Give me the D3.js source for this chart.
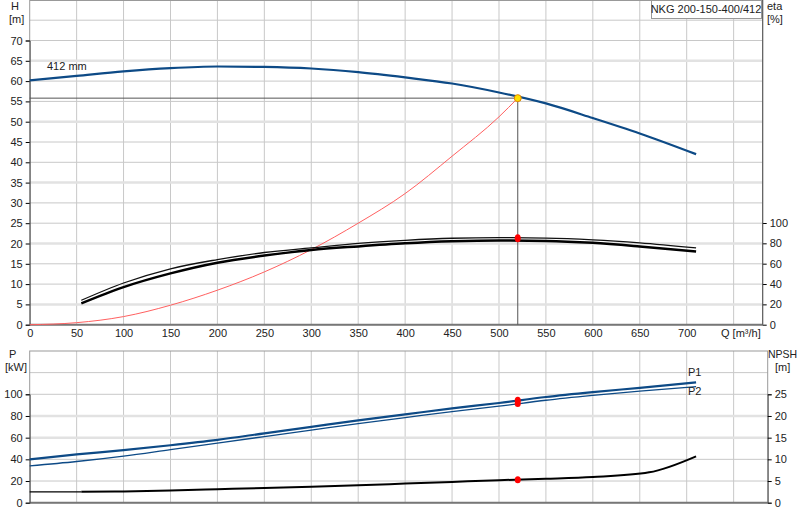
<!DOCTYPE html><html><head><meta charset="utf-8"><script src="https://cdn.jsdelivr.net/npm/d3@7"></script>
<style>body{margin:0;background:#fff}text{font-family:"Liberation Sans",Arial,sans-serif;font-size:11px;fill:#222}</style></head><body><svg id="c" width="800" height="520"></svg><script>
const qTicks=[0,50,100,150,200,250,300,350,400,450,500,550,600,650,700];
const hTicks=[0,5,10,15,20,25,30,35,40,45,50,55,60,65,70];
const etaTicks=[0,20,40,60,80,100];
const pTicks=[0,20,40,60,80,100];
const npshTicks=[0,5,10,15,20,25];
const hQ=[0,50,100,150,200,250,300,350,400,450,500,550,600,650,710];
const hVal=[60.2,61.3,62.4,63.2,63.6,63.5,63.1,62.2,60.9,59.4,57.2,54.5,50.9,47.1,42.0];
const sysQ=[0,50,100,150,200,250,300,350,400,450,500,520];
const sysVal=[0,0.5,2.0,4.8,8.5,13.0,18.5,25.0,32.3,41.5,51.2,55.8];
const etaQ=[55,100,150,200,250,300,350,400,450,500,550,600,650,710];
const eta1=[24,41,55,64,71,75.5,80,83,85,85.6,85.2,83.5,80.5,75.5];
const eta2=[21,37,50.5,61,68,73.5,77,80,82,82.8,82.4,80.5,77,72];
const pQ=[0,50,100,150,200,250,300,350,400,450,500,550,600,650,710];
const p1=[40,44.5,48.5,53,58,64,70,76,81.5,87,92,97.5,102,106,111];
const p2=[34,38,43,49,55,61,67,73,78.5,84,89,94.5,99,103,107];
const npQ=[55,100,150,200,250,300,350,400,450,500,550,600,660,710];
const npVal=[2.5,2.6,2.8,3.1,3.4,3.7,4.0,4.4,4.8,5.2,5.5,5.9,7.0,10.7];
const duty={q:520,h:55.8,eta:85,p1:94.5,p2:91.5,np:5.3};
const svg=d3.select("#c");
const x=d3.scaleLinear().domain([0,700]).range([29.7,686.7]);
const xR=762.7, xR2=767.7;
const yH=d3.scaleLinear().domain([0,70]).range([324.7,40.5]);
const yE=d3.scaleLinear().domain([0,100]).range([324.7,223]);
const yP=d3.scaleLinear().domain([0,100]).range([502.7,394.3]);
const yN=d3.scaleLinear().domain([0,25]).range([502.7,394.3]);
const g=svg.append("g");
for(let q=50;q<=750;q+=50)g.append("line").attr("x1",x(q)).attr("x2",x(q)).attr("y1",0).attr("y2",324.7).attr("stroke","#c8c8c8");
for(let h=5;h<=75;h+=5)g.append("line").attr("x1",29.7).attr("x2",xR).attr("y1",yH(h)).attr("y2",yH(h)).attr("stroke",h%15==5?"#e2e2e2":"#c8c8c8").attr("stroke-width",h%15==5?2.5:1);
g.append("rect").attr("x",29.7).attr("y",0.5).attr("width",xR-29.7).attr("height",324.2).attr("fill","none").attr("stroke","#999");
g.append("line").attr("x1",29.7).attr("x2",xR).attr("y1",324.7).attr("y2",324.7).attr("stroke","#777").attr("stroke-width",2);
for(let q=50;q<=750;q+=50)g.append("line").attr("x1",x(q)).attr("x2",x(q)).attr("y1",351).attr("y2",502.7).attr("stroke","#c8c8c8");
for(let p=20;p<=120;p+=20)g.append("line").attr("x1",29.7).attr("x2",xR2).attr("y1",yP(p)).attr("y2",yP(p)).attr("stroke",(p==60||p==80)?"#e2e2e2":"#c8c8c8").attr("stroke-width",(p==60||p==80)?2.5:1);
g.append("rect").attr("x",29.7).attr("y",351).attr("width",xR2-29.7).attr("height",151.7).attr("fill","none").attr("stroke","#999");
g.append("line").attr("x1",29.7).attr("x2",xR2).attr("y1",502.7).attr("y2",502.7).attr("stroke","#777").attr("stroke-width",2);
svg.append("g").attr("transform","translate(29.7,0)").call(d3.axisLeft(yH).tickValues(hTicks).tickSize(4).tickPadding(3)).call(a=>a.select(".domain").attr("stroke","#555"));
svg.append("g").attr("transform",`translate(${xR},0)`).call(d3.axisRight(yE).tickValues(etaTicks).tickSize(4).tickPadding(3)).call(a=>a.select(".domain").remove());
svg.append("line").attr("x1",xR).attr("x2",xR).attr("y1",0).attr("y2",324.7).attr("stroke","#555");
svg.append("g").attr("transform","translate(0,324.7)").call(d3.axisBottom(x).tickValues(qTicks).tickSize(0).tickPadding(5)).call(a=>a.select(".domain").remove());
svg.append("g").attr("transform","translate(29.7,0)").call(d3.axisLeft(yP).tickValues(pTicks).tickSize(4).tickPadding(3)).call(a=>a.select(".domain").attr("stroke","#555"));
svg.append("g").attr("transform",`translate(${xR2},0)`).call(d3.axisRight(yN).tickValues(npshTicks).tickSize(4).tickPadding(3)).call(a=>a.select(".domain").attr("stroke","#555"));
svg.selectAll(".tick text").style("font-size","11px").style("font-family","Liberation Sans, Arial, sans-serif").attr("fill","#222");
const T=(t,xx,yy,a)=>svg.append("text").attr("x",xx).attr("y",yy).attr("text-anchor",a||"start").text(t);
T("H",11,10);T("[m]",9,23);T("eta",767,10);T("[%]",767,23);
T("Q [m³/h]",721,337);T("P",9,358);T("[kW]",5,371);T("NPSH",768,358).style("font-size","10.5px");T("[m]",775,371);
T("412 mm",47,70);
svg.append("rect").attr("x",651.5).attr("y",0.5).attr("width",110).attr("height",18).attr("fill","#fff").attr("stroke","#999");
T("NKG 200-150-400/412",706,13,"middle");
const line=(xs,ys,ysc)=>d3.line().curve(d3.curveMonotoneX)(xs.map((q,i)=>[x(q),ysc(ys[i])]));
svg.append("line").attr("x1",29.7).attr("x2",x(duty.q)).attr("y1",yH(duty.h)).attr("y2",yH(duty.h)).attr("stroke","#555");
svg.append("line").attr("x1",x(duty.q)).attr("x2",x(duty.q)).attr("y1",yH(duty.h)).attr("y2",324.7).attr("stroke","#555");
svg.append("path").attr("d",line(sysQ,sysVal,yH)).attr("fill","none").attr("stroke","#ff6060").attr("stroke-width",1);
svg.append("path").attr("d",line(hQ,hVal,yH)).attr("fill","none").attr("stroke","#0d4a86").attr("stroke-width",2.2);
svg.append("path").attr("d",line(etaQ,eta1,yE)).attr("fill","none").attr("stroke","#111").attr("stroke-width",1.3);
svg.append("path").attr("d",line(etaQ,eta2,yE)).attr("fill","none").attr("stroke","#000").attr("stroke-width",2.5);
svg.append("path").attr("d",line(pQ,p1,yP)).attr("fill","none").attr("stroke","#0d4a86").attr("stroke-width",2.2);
svg.append("path").attr("d",line(pQ,p2,yP)).attr("fill","none").attr("stroke","#0d4a86").attr("stroke-width",1.3);
svg.append("line").attr("x1",29.7).attr("x2",x(55)).attr("y1",yN(2.5)).attr("y2",yN(2.5)).attr("stroke","#000").attr("stroke-width",1.3);
svg.append("path").attr("d",line(npQ,npVal,yN)).attr("fill","none").attr("stroke","#000").attr("stroke-width",2);
T("P1",688,376).attr("fill","#0d4a86");T("P2",688,395).attr("fill","#0d4a86");
svg.append("circle").attr("cx",x(duty.q)).attr("cy",yH(duty.h)).attr("r",3.5).attr("fill","#ffe000").attr("stroke","#e08000");
svg.append("ellipse").attr("cx",x(duty.q)).attr("cy",yE(duty.eta)).attr("rx",3).attr("ry",4).attr("fill","red");
[duty.p1,duty.p2].forEach(p=>svg.append("ellipse").attr("cx",x(duty.q)).attr("cy",yP(p)).attr("rx",3).attr("ry",3.5).attr("fill","red"));
svg.append("ellipse").attr("cx",x(duty.q)).attr("cy",yN(duty.np)).attr("rx",3).attr("ry",3.5).attr("fill","red");
</script></body></html>
